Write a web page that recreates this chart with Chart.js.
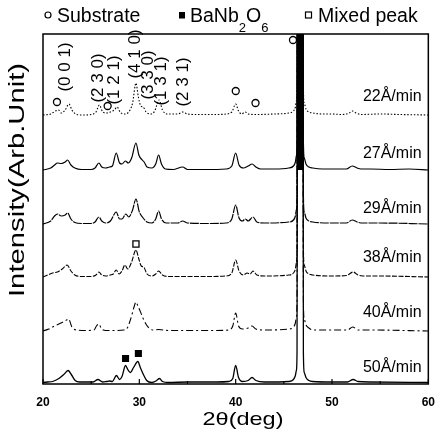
<!DOCTYPE html>
<html><head><meta charset="utf-8">
<script src="https://cdn.jsdelivr.net/npm/chart.js@4/dist/chart.umd.min.js"></script>
<style>html,body{margin:0;padding:0;background:#fff;overflow:hidden}canvas{display:block}</style>
</head><body>
<canvas id="c" width="446" height="443"></canvas>
<script>
const FONT = '"Liberation Sans", Arial, Helvetica, sans-serif';

// sample labels (deposition rate) and vertical stacking offsets
const sampleLabels = ['22Å/min', '27Å/min', '29Å/min', '38Å/min', '40Å/min', '50Å/min'];
const offsets = [269, 214, 160, 107, 53, 1.5];
const labelLevels = [287, 230, 175, 126, 71, 16];

// [2theta (deg), intensity above own baseline (arb.)]
const trace22 = [[20,0],[20.8,1],[21.3,4],[21.6,5],[21.9,2],[22.3,5],[22.7,11],[23.0,5],[23.4,1],[24,0],[25,0.5],[25.5,3],[25.85,10],[26.2,3],[26.6,2],[27.0,3],[27.4,5],[27.7,8],[28.0,3],[28.4,1],[28.9,3],[29.3,12],[29.65,32],[29.9,18],[30.15,9],[30.4,8],[30.7,3],[31.2,1],[31.6,4],[32.05,15],[32.4,5],[32.9,1],[34.0,1],[34.5,3],[35,1],[36,0.5],[38,0.5],[39,1],[39.6,3],[40.0,11],[40.3,4],[40.6,1],[41.0,3],[41.3,1],[42,0.5],[44,1],[45.5,2],[46.0,4],[46.2,8],[46.3,14],[46.37,30],[46.42,500],[46.7,5000],[46.98,500],[47.03,30],[47.12,12],[47.3,6],[47.6,3],[48,2],[49,1],[50,1],[51,0.5],[51.8,2],[52.1,4],[52.5,2],[53,0.5],[55,1],[57,0.5],[60,0]];
const trace27 = [[20,0],[20.8,2],[21.2,5],[21.5,7],[21.9,6.5],[22.3,8],[22.55,10],[22.9,5],[23.3,2],[24,0.5],[25,0.5],[25.4,2],[25.8,7],[26.1,3],[26.5,2],[26.9,3],[27.2,4],[27.6,17],[27.95,7],[28.2,6],[28.55,9],[28.85,7],[29.2,12],[29.65,27],[29.95,15],[30.3,10],[30.5,8],[30.8,3],[31.3,2],[31.7,6],[32.0,15],[32.3,6],[32.7,1],[33.5,0.5],[34.5,3],[35,0.5],[37,0.5],[39,1],[39.6,4],[40.0,17],[40.35,5],[40.8,2],[41.3,4],[41.7,6],[42.1,3],[42.6,1],[44,1],[45.5,2],[46.0,4],[46.2,8],[46.3,14],[46.37,30],[46.42,500],[46.7,5000],[46.98,500],[47.03,30],[47.12,12],[47.3,6],[47.6,3],[48,2],[49,1],[50,1],[51.5,1],[52.1,4],[52.6,2],[53,1],[54,1],[56,0.5],[58,1],[60,0]];
const trace29 = [[20,0],[20.8,3],[21.2,8],[21.5,10],[21.9,8],[22.3,9],[22.55,11],[22.9,5],[23.3,1.5],[24,0.5],[25,0.5],[25.4,2],[25.8,7],[26.1,3],[26.5,1],[27,3],[27.6,12],[27.95,5],[28.2,5],[28.6,10],[28.9,7],[29.3,14],[29.65,25],[30.0,12],[30.4,6],[30.8,2],[31.3,1],[31.7,5],[32.0,13],[32.3,5],[32.8,1],[34,1],[34.5,3],[35,1],[37,0.5],[39,1],[39.6,5],[40.0,19],[40.35,6],[40.7,3],[41.0,5],[41.3,3],[41.8,7],[42.2,2],[43,1],[45.5,2],[46.0,4],[46.2,8],[46.3,14],[46.37,30],[46.42,500],[46.7,5000],[46.98,500],[47.03,30],[47.12,12],[47.3,6],[47.6,3],[48,2],[50,1],[51.5,1],[52.1,4],[52.6,2],[53,1],[55,1],[60,0]];
const trace38 = [[20,0],[20.5,2],[21,4],[21.5,5],[22.0,8],[22.5,12],[22.9,6],[23.3,2],[24,0.5],[25,0.5],[25.5,2],[25.8,5],[26.1,2],[26.5,1],[27,2],[27.3,3],[27.6,7],[27.9,3],[28.2,6],[28.5,12],[28.8,8],[29.2,15],[29.65,27],[29.95,18],[30.2,11],[30.45,10],[30.8,3],[31.3,1],[31.7,3],[32.0,6],[32.4,2],[33,0.5],[35,0.5],[37,0.5],[39,1],[39.6,4],[40.0,17],[40.35,6],[40.8,2],[41.2,4],[41.5,3],[41.8,6],[42.2,2],[43,1],[45.5,2],[46.0,4],[46.2,8],[46.3,14],[46.37,30],[46.42,500],[46.7,5000],[46.98,500],[47.03,30],[47.12,12],[47.3,6],[47.6,3],[48,2],[50,1],[51.5,1.5],[52.2,5],[52.7,2],[53.2,1],[55,1],[60,0]];
const trace40 = [[20,0],[20.6,2],[21.0,4],[21.65,7],[22.3,10],[22.65,12],[23.0,4],[23.5,1],[24.5,0.5],[25.3,1],[25.55,5],[25.77,7],[26.1,2],[26.5,0.5],[27.5,0.5],[28.4,1],[28.75,3],[29.0,9],[29.25,17],[29.45,24],[29.65,29],[29.85,25],[30.08,20],[30.42,12],[30.75,6],[31.0,3],[31.4,1],[32,1.5],[33,0.5],[36,0.5],[38,0.5],[39.3,1],[39.7,5],[40.0,18],[40.3,5],[40.7,2],[41.3,3],[41.7,5],[42.1,2],[43,1],[45.5,2],[46.0,4],[46.2,8],[46.3,14],[46.37,30],[46.42,500],[46.7,5000],[46.98,500],[47.03,30],[47.12,12],[47.3,6],[47.6,3],[48,1],[50,1],[51.6,1],[52.15,4],[52.7,1],[54,1],[60,0]];
const trace50 = [[20,0],[20.5,0.5],[21.0,1],[21.65,4],[22.16,8],[22.6,12],[23.0,7],[23.34,2],[23.8,0.5],[25.2,0.5],[25.7,3],[26.2,0.5],[26.6,1],[26.9,1.5],[27.2,1],[27.62,7],[27.95,3],[28.2,6],[28.57,17],[28.8,13],[29.07,10],[29.4,15],[29.85,21],[30.1,15],[30.42,8],[30.76,2],[31.3,0],[31.8,2],[32.1,4],[32.4,1],[33,0],[35,0.5],[38,0.5],[39.3,1],[39.7,4],[40.0,17],[40.3,5],[40.7,1],[41.3,2],[41.7,5],[42.1,2],[43,0.5],[45.5,1],[46.0,3],[46.2,7],[46.3,12],[46.37,30],[46.42,500],[46.7,5000],[46.98,500],[47.03,30],[47.12,10],[47.3,5],[47.6,2],[48,1],[50,0.5],[51.6,0.5],[52.2,3],[52.7,1],[54,0.5],[60,0]];
const traces = [trace22, trace27, trace29, trace38, trace40, trace50];

// saturated substrate reflection: range (deg) where the overlapping traces read as solid black
const substratePeakRange = [46.36, 47.04];
const saturationLevel = 214;

// peak markers [2theta, level]
const substrateMarks = [[21.45,282],[26.71,278],[40.01,293],[42.06,281],[45.95,344]];
const banbMarks = [[28.57,25.5],[29.9,30.5]];
const mixedMarks = [[29.65,140]];

// Miller index labels on the top trace [text, 2theta, level]
const millerLabels = [['(0 0 1)',22.33,317],['(2 3 0)',25.7,306],['(1 2 1)',27.45,304],['(4 1 0)',29.6,330],['(3 3 0)',30.93,309],['(1 3 1)',32.28,303],['(2 3 1)',34.6,302]];

const legendItems = ['Substrate', 'BaNb2O6', 'Mixed peak'];
const xTitle = '2θ(deg)';
const yTitle = 'Intensity(Arb.Unit)';

const dashes = [[1.5,1.8], [], [9,1], [5,1.5], [7,3,2,3], []];
const widths = [1.1, 1.2, 1.2, 1.1, 1.1, 1.3];

const inPeak = c => c.p0.parsed.x >= substratePeakRange[0] && c.p1.parsed.x <= substratePeakRange[1];

const datasets = traces.map((t, i) => ({
  label: sampleLabels[i],
  data: t.map(p => ({x: p[0], y: p[1] + offsets[i]})),
  borderColor: '#000',
  borderWidth: widths[i],
  borderDash: dashes[i],
  pointRadius: 0,
  fill: i === 0 ? {value: saturationLevel} : false,
  backgroundColor: 'rgba(0,0,0,0)',
  segment: i === 0 ? {backgroundColor: c => inPeak(c) ? '#000' : 'rgba(0,0,0,0)'} : undefined,
  cubicInterpolationMode: 'monotone'
}));
datasets.push({
  label: 'Substrate', data: substrateMarks.map(p => ({x: p[0], y: p[1]})),
  showLine: false, pointStyle: 'circle', pointRadius: 3.5, pointBorderWidth: 1.3,
  pointBackgroundColor: '#fff', pointBorderColor: '#000'
});
datasets.push({
  label: 'BaNb2O6', data: banbMarks.map(p => ({x: p[0], y: p[1]})),
  showLine: false, pointStyle: 'rect', pointRadius: 5, pointBorderWidth: 0,
  pointBackgroundColor: '#000', pointBorderColor: '#000'
});
datasets.push({
  label: 'Mixed peak', data: mixedMarks.map(p => ({x: p[0], y: p[1]})),
  showLine: false, pointStyle: 'rect', pointRadius: 4.3, pointBorderWidth: 1.3,
  pointBackgroundColor: '#fff', pointBorderColor: '#000'
});

function stretched(ctx, txt, cx, cy, fontPx, len, rot) {
  ctx.save();
  ctx.translate(cx, cy); ctx.rotate(rot);
  ctx.font = fontPx + 'px ' + FONT;
  const w = ctx.measureText(txt).width;
  ctx.scale(len / w, 1);
  ctx.textAlign = 'center'; ctx.textBaseline = 'middle';
  ctx.fillText(txt, 0, 0);
  ctx.restore();
}

const decor = {
  id: 'decor',
  afterDraw(chart) {
    const {ctx, chartArea: a, scales: {x, y}} = chart;
    ctx.save();
    ctx.fillStyle = '#000'; ctx.strokeStyle = '#000';
    // frame
    ctx.lineWidth = 1.5;
    ctx.strokeRect(a.left, a.top, a.right - a.left, a.bottom - a.top);
    // x ticks (major from scale, minor halfway)
    ctx.lineWidth = 1.2;
    const major = x.ticks.map(t => t.value);
    major.forEach((v, i) => {
      const px = x.getPixelForValue(v);
      ctx.beginPath(); ctx.moveTo(px, a.bottom); ctx.lineTo(px, a.bottom - 5); ctx.stroke();
      if (i < major.length - 1) {
        const pm = x.getPixelForValue((v + major[i + 1]) / 2);
        ctx.beginPath(); ctx.moveTo(pm, a.bottom); ctx.lineTo(pm, a.bottom - 3); ctx.stroke();
      }
    });
    // sample labels
    ctx.font = '16px ' + FONT;
    ctx.textAlign = 'right'; ctx.textBaseline = 'middle';
    sampleLabels.forEach((s, i) => ctx.fillText(s, x.getPixelForValue(59.3), y.getPixelForValue(labelLevels[i])));
    // miller labels
    ctx.font = '17px ' + FONT;
    millerLabels.forEach(m => {
      ctx.save();
      ctx.translate(x.getPixelForValue(m[1]), y.getPixelForValue(m[2]));
      ctx.rotate(-Math.PI / 2);
      ctx.textAlign = 'center'; ctx.textBaseline = 'middle';
      ctx.fillText(m[0], 0, 0);
      ctx.restore();
    });
    // axis titles
    stretched(ctx, xTitle, 243, 420, 19, 81, 0);
    stretched(ctx, yTitle, 18, 180, 22, 234, -Math.PI / 2);
    // legend
    ctx.textAlign = 'left'; ctx.textBaseline = 'alphabetic';
    const big = '19.5px ' + FONT, small = '13px ' + FONT;
    ctx.lineWidth = 1.2;
    ctx.beginPath(); ctx.arc(48, 15, 3, 0, Math.PI * 2); ctx.stroke();
    ctx.font = big; ctx.fillText(legendItems[0], 57, 22);
    ctx.fillRect(179, 12, 6, 6.5);
    let cx = 190;
    const parts = [['BaNb', big, 22], ['2', small, 32], ['O', big, 22], ['6', small, 32]];
    parts.forEach(p => { ctx.font = p[1]; ctx.fillText(p[0], cx, p[2]); cx += ctx.measureText(p[0]).width; });
    ctx.strokeRect(305.5, 12, 6, 6);
    ctx.font = big; ctx.fillText(legendItems[2], 318, 22);
    ctx.restore();
  }
};

new Chart(document.getElementById('c'), {
  type: 'line',
  data: {datasets},
  options: {
    responsive: false, animation: false, devicePixelRatio: 1,
    layout: {padding: {top: 34, right: 7, left: 0, bottom: 0}},
    plugins: {legend: {display: false}, tooltip: {enabled: false}, filler: {propagate: false}},
    scales: {
      x: {
        type: 'linear', min: 20, max: 60,
        afterFit(s) { s.height = 59; },
        grid: {display: false, drawTicks: false},
        border: {display: false},
        ticks: {stepSize: 10, padding: 11, color: '#000', font: {family: FONT, size: 12, weight: 'bold'}}
      },
      y: {
        type: 'linear', min: 0, max: 350,
        afterFit(s) { s.width = 43; },
        grid: {display: false, drawTicks: false},
        border: {display: false},
        ticks: {display: false}
      }
    }
  },
  plugins: [decor]
});
</script>
</body></html>
